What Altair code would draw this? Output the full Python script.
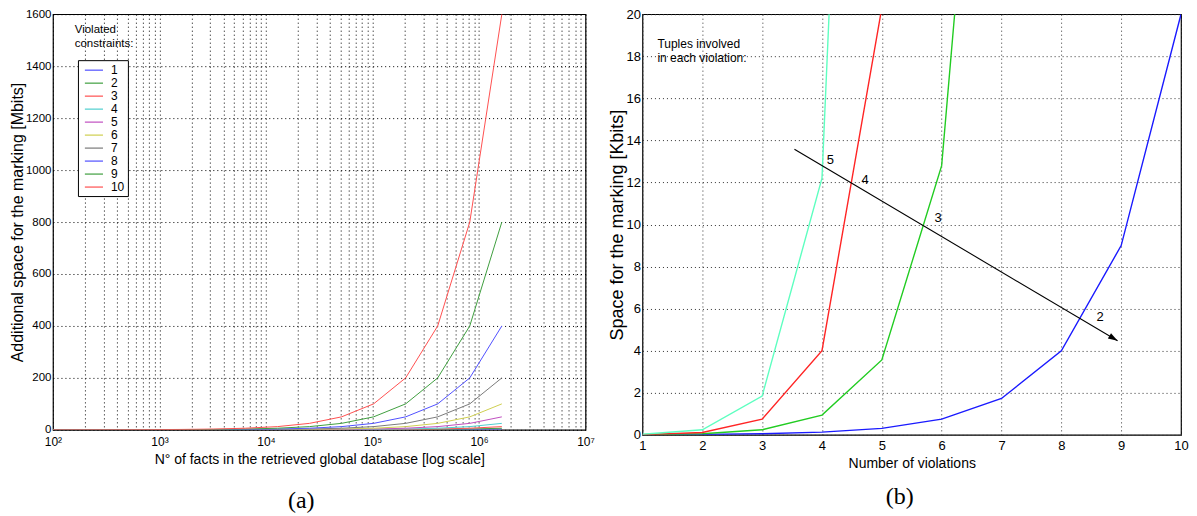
import altair as alt
import pandas as pd

# ---------------- panel (a) ----------------
facts = [100, 200, 400, 800, 1600, 3200, 6400, 12800, 25600, 51200,
         102400, 204800, 409600, 819200, 1638400]
constraint_names = ["1", "2", "3", "4", "5", "6", "7", "8", "9", "10"]
constraint_colors = ["#5050ff", "#3f9f3f", "#ff5050", "#4fcfcf", "#c04fc0",
                     "#cfcf4f", "#7a7a7a", "#5050ff", "#3f9f3f", "#ff5050"]
space_c1 = [0, 0, 0, 0, 0, 0.01, 0.01, 0.02, 0.05, 0.1, 0.2, 0.4, 0.8, 1.6, 3.1]
space_c2 = [0, 0, 0, 0, 0.01, 0.01, 0.02, 0.05, 0.1, 0.2, 0.4, 0.8, 1.6, 3.1, 6.3]
space_c3 = [0, 0, 0, 0.01, 0.01, 0.02, 0.05, 0.1, 0.2, 0.4, 0.8, 1.6, 3.1, 6.3, 12.5]
space_c4 = [0, 0, 0.01, 0.01, 0.02, 0.05, 0.1, 0.2, 0.4, 0.8, 1.6, 3.1, 6.3, 12.5, 25]
space_c5 = [0, 0.01, 0.01, 0.02, 0.05, 0.1, 0.2, 0.4, 0.8, 1.6, 3.1, 6.3, 12.5, 25, 50]
space_c6 = [0.01, 0.01, 0.02, 0.05, 0.1, 0.2, 0.4, 0.8, 1.6, 3.1, 6.3, 12.5, 25, 50, 100]
space_c7 = [0.01, 0.02, 0.05, 0.1, 0.2, 0.4, 0.8, 1.6, 3.1, 6.3, 12.5, 25, 50, 100, 200]
space_c8 = [0.02, 0.05, 0.1, 0.2, 0.4, 0.8, 1.6, 3.1, 6.3, 12.5, 25, 50, 100, 200, 400]
space_c9 = [0.05, 0.1, 0.2, 0.4, 0.8, 1.6, 3.1, 6.3, 12.5, 25, 50, 100, 200, 400, 800]
space_c10 = [0.1, 0.2, 0.4, 0.8, 1.6, 3.1, 6.3, 12.5, 25, 50, 100, 200, 400, 800, 1600]
space_all = [space_c1, space_c2, space_c3, space_c4, space_c5,
             space_c6, space_c7, space_c8, space_c9, space_c10]

a_x_ticks = [100, 200, 300, 400, 500, 600, 700, 800, 900,
             1000, 2000, 3000, 4000, 5000, 6000, 7000, 8000, 9000,
             10000, 20000, 30000, 40000, 50000, 60000, 70000, 80000, 90000,
             100000, 200000, 300000, 400000, 500000, 600000, 700000, 800000, 900000,
             1000000, 2000000, 3000000, 4000000, 5000000, 6000000, 7000000, 8000000, 9000000,
             10000000]
a_y_ticks = [0, 200, 400, 600, 800, 1000, 1200, 1400, 1600]
a_note = ["Violated", "constraints:"]
a_note_x = [160, 160]
a_note_y = [1539, 1486]

rows = []
for name, vals in zip(constraint_names, space_all):
    for f, v in zip(facts, vals):
        rows.append({"facts": f, "mbits": v, "constraints": name})
df_a = pd.DataFrame(rows)
df_a_note = pd.DataFrame({"x": a_note_x, "y": a_note_y, "t": a_note})

pow_label = ("datum.value == 100 ? '10²' : datum.value == 1000 ? '10³' : "
             "datum.value == 10000 ? '10⁴' : datum.value == 100000 ? '10⁵' : "
             "datum.value == 1000000 ? '10⁶' : datum.value == 10000000 ? '10⁷' : ''")

xa = alt.X("facts:Q",
           scale=alt.Scale(type="log", domain=[100, 10000000], nice=False),
           axis=alt.Axis(values=a_x_ticks, labelExpr=pow_label,
                         title="N° of facts in the retrieved global database [log scale]",
                         grid=True, gridDash=[1, 3], gridColor="black", gridOpacity=1,
                         ticks=False, domain=False, labelFlush=False, labelOverlap=False,
                         labelFontSize=12, titleFontSize=14, labelPadding=7, titlePadding=5,
                         titleFontWeight="normal"))
ya = alt.Y("mbits:Q",
           scale=alt.Scale(domain=[0, 1600], nice=False),
           axis=alt.Axis(values=a_y_ticks, format="d",
                         title="Additional space for the marking [Mbits]",
                         grid=True, gridDash=[1, 3], gridColor="black", gridOpacity=1,
                         ticks=False, domain=False, labelFontSize=11.5, titleFontSize=16,
                         labelPadding=2, titlePadding=0, titleFontWeight="normal"))

lines_a = alt.Chart(df_a).mark_line(strokeWidth=1, clip=True).encode(
    x=xa, y=ya,
    color=alt.Color("constraints:N", sort=constraint_names,
                    scale=alt.Scale(domain=constraint_names, range=constraint_colors),
                    legend=alt.Legend(title=None, orient="none", legendX=25, legendY=46,
                                      direction="vertical", symbolType="M-1.5,0H1.5",
                                      symbolSize=146, symbolStrokeWidth=1.2,
                                      symbolFillColor="transparent", symbolOffset=6,
                                      strokeColor="black", fillColor="white",
                                      padding=3, rowPadding=0, labelOffset=10,
                                      labelFontSize=12, labelColor="black")),
)
note_a = alt.Chart(df_a_note).mark_text(align="left", baseline="middle", fontSize=11.5,
                                        color="black").encode(
    x=alt.X("x:Q", scale=alt.Scale(type="log")), y=alt.Y("y:Q"), text="t:N")

panel_a = alt.layer(lines_a, note_a).properties(
    width=533, height=416,
    title=alt.TitleParams("(a)", orient="bottom", font="Liberation Serif", fontSize=24,
                          fontWeight="normal", dx=-18, offset=22))

# ---------------- panel (b) ----------------
violations = [1, 2, 3, 4, 5, 6, 7, 8, 9, 10]
tuple_names = ["2", "3", "4", "5"]
tuple_colors = ["#1a1aff", "#22cc22", "#ff2525", "#5effc0"]
kbits_t2 = [0.01, 0.02, 0.05, 0.13, 0.31, 0.75, 1.73, 4.0, 9.0, 20.0]
kbits_t3 = [0.01, 0.05, 0.24, 0.94, 3.56, 12.8, 46.0]
kbits_t4 = [0.01, 0.11, 0.75, 4.0, 20.3]
kbits_t5 = [0.03, 0.24, 1.84, 12.2, 78.0]
kbits_all = [kbits_t2, kbits_t3, kbits_t4, kbits_t5]

b_x_ticks = [1, 2, 3, 4, 5, 6, 7, 8, 9, 10]
b_y_ticks = [0, 2, 4, 6, 8, 10, 12, 14, 16, 18, 20]
arrow_x = [3.54]
arrow_y = [13.58]
arrow_x2 = [8.94]
arrow_y2 = [4.47]
arrow_labels = ["5", "4", "3", "2"]
arrow_label_x = [4.14, 4.72, 5.94, 8.65]
arrow_label_y = [13.06, 12.14, 10.3, 5.61]
b_note = ["Tuples involved", "in each violation:"]
b_note_x = [1.25, 1.25]
b_note_y = [18.59, 17.93]

rows = []
for name, vals in zip(tuple_names, kbits_all):
    for v_x, v in zip(violations, vals):
        rows.append({"violations": v_x, "kbits": v, "tuples": name})
df_b = pd.DataFrame(rows)
df_arrow = pd.DataFrame({"x": arrow_x, "y": arrow_y, "x2": arrow_x2, "y2": arrow_y2})
df_arrow_lab = pd.DataFrame({"x": arrow_label_x, "y": arrow_label_y, "t": arrow_labels})
df_b_note = pd.DataFrame({"x": b_note_x, "y": b_note_y, "t": b_note})

xb_scale = alt.Scale(domain=[1, 10], nice=False)
yb_scale = alt.Scale(domain=[0, 20], nice=False)
xb = alt.X("violations:Q", scale=xb_scale,
           axis=alt.Axis(values=b_x_ticks, format="d", title="Number of violations",
                         grid=True, gridDash=[1, 3], gridColor="#333", gridOpacity=1,
                         ticks=False, domain=False, labelFlush=False,
                         labelFontSize=13, titleFontSize=14, labelPadding=5, titlePadding=4,
                         titleFontWeight="normal"))
yb = alt.Y("kbits:Q", scale=yb_scale,
           axis=alt.Axis(values=b_y_ticks, format="d", title="Space for the marking [Kbits]",
                         grid=True, gridDash=[1, 3], gridColor="#333", gridOpacity=1,
                         ticks=False, domain=False, labelFontSize=13, titleFontSize=18,
                         labelPadding=2, titlePadding=0, titleFontWeight="normal"))

lines_b = alt.Chart(df_b).mark_line(strokeWidth=1.4, clip=True).encode(
    x=xb, y=yb,
    color=alt.Color("tuples:N", scale=alt.Scale(domain=tuple_names, range=tuple_colors),
                    legend=None),
)
arrow_line = alt.Chart(df_arrow).mark_rule(color="black", strokeWidth=1.1).encode(
    x=alt.X("x:Q", scale=xb_scale), y=alt.Y("y:Q", scale=yb_scale), x2="x2:Q", y2="y2:Q")
arrow_head = alt.Chart(df_arrow).mark_point(
    shape="M0,0L-2,-0.65L-2,0.65Z", filled=True, color="black", opacity=1,
    size=90, angle=31).encode(
    x=alt.X("x2:Q", scale=xb_scale), y=alt.Y("y2:Q", scale=yb_scale))
arrow_text = alt.Chart(df_arrow_lab).mark_text(fontSize=13, color="black").encode(
    x=alt.X("x:Q", scale=xb_scale), y=alt.Y("y:Q", scale=yb_scale), text="t:N")
note_b = alt.Chart(df_b_note).mark_text(align="left", baseline="middle", fontSize=12,
                                        color="black").encode(
    x=alt.X("x:Q", scale=xb_scale), y=alt.Y("y:Q", scale=yb_scale), text="t:N")

panel_b = alt.layer(lines_b, arrow_line, arrow_head, arrow_text, note_b).properties(
    width=539, height=421,
    title=alt.TitleParams("(b)", orient="bottom", font="Liberation Serif", fontSize=24,
                          fontWeight="normal", dx=-12, offset=14))

chart = alt.hconcat(panel_a, panel_b, spacing=11).resolve_scale(
    color="independent").properties(
    padding={"top": -1, "left": 0, "right": 0, "bottom": 0}).configure(
    font="Liberation Sans",
).configure_view(stroke="black", strokeWidth=1.2).configure_axis(
    labelColor="black", titleColor="black", labelFont="Liberation Sans",
    titleFont="Liberation Sans")

chart.save("out.html", embed_options={"renderer": "svg", "actions": False})
